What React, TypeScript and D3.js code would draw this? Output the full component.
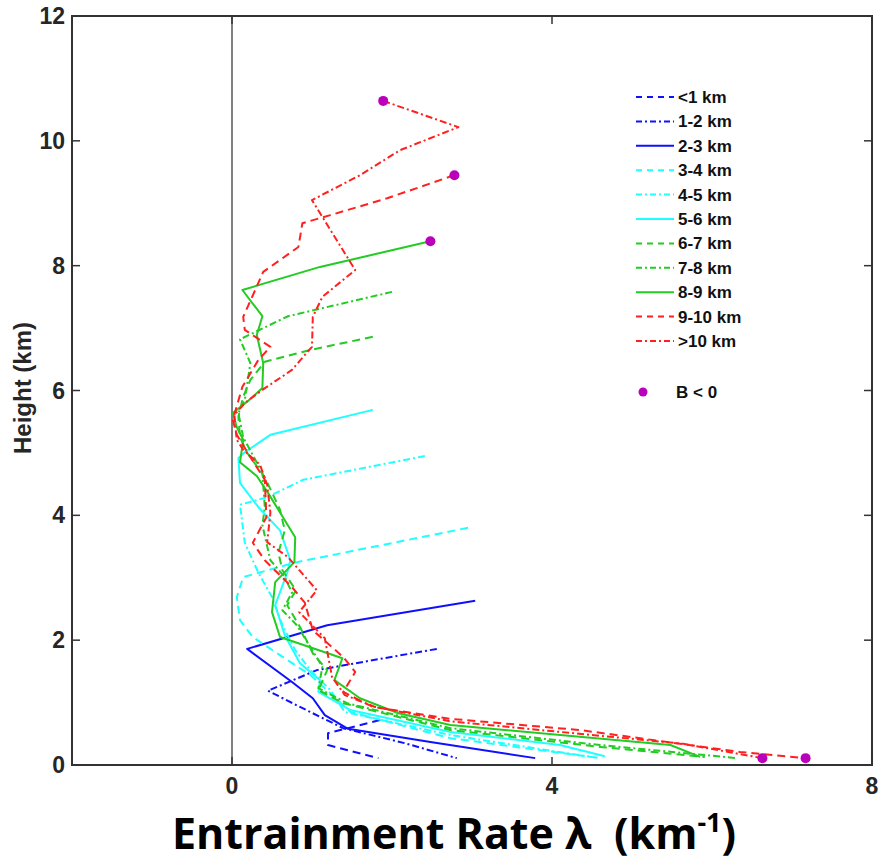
import React from "react";
import * as d3 from "d3";

// ---------- data ----------
const xTicks = [0, 4, 8];
const yTicks = [0, 2, 4, 6, 8, 10, 12];

const legendLabels = ["<1 km", "1-2 km", "2-3 km", "3-4 km", "4-5 km", "5-6 km", "6-7 km", "7-8 km", "8-9 km", "9-10 km", ">10 km"];

// entrainment rate (km^-1) and height (km) per cloud-top class
const lamLt1 = [1.85, 1.2, 1.2, 1.83];
const hLt1 = [0.72, 0.51, 0.32, 0.11];

const lam1to2 = [2.56, 1.06, 0.45, 0.85, 1.39, 2.16, 2.81];
const h1to2 = [1.86, 1.52, 1.19, 0.93, 0.59, 0.35, 0.11];

const lam2to3 = [3.04, 1.19, 0.19, 0.75, 1.01, 1.16, 1.45, 2.48, 3.79];
const h2to3 = [2.63, 2.24, 1.86, 1.33, 1.07, 0.8, 0.58, 0.37, 0.11];

const lam3to4 = [2.95, 0.81, 0.14, 0.06, 0.1, 0.26, 0.6, 0.98, 1.23, 1.48, 2.73, 4.6];
const h3to4 = [3.8, 3.25, 3.01, 2.69, 2.32, 2.05, 1.76, 1.44, 1.15, 0.85, 0.43, 0.11];

const lam4to5 = [2.41, 0.89, 0.44, 0.1, 0.16, 0.33, 0.5, 0.63, 0.79, 0.98, 1.23, 1.41, 2.73, 4.48];
const h4to5 = [4.95, 4.57, 4.29, 4.17, 3.56, 3.08, 2.69, 2.24, 1.84, 1.52, 1.2, 0.85, 0.48, 0.13];

const lam5to6 = [1.76, 0.48, 0.16, 0.08, 0.1, 0.33, 0.6, 0.73, 0.69, 0.54, 0.66, 0.85, 1.1, 1.08, 1.48, 2.73, 4.1, 4.66];
const h5to6 = [5.69, 5.29, 5.01, 4.92, 4.52, 4.13, 3.76, 3.28, 3.08, 2.56, 2.08, 1.63, 1.36, 1.17, 0.88, 0.53, 0.32, 0.14];

const lam6to7 = [1.76, 0.98, 0.41, 0.23, 0.14, 0.08, 0.1, 0.19, 0.41, 0.6, 0.66, 0.58, 0.63, 0.8, 0.69, 0.85, 1.01, 1.19, 1.08, 1.39, 2.73, 4.6, 5.91];
const h6to7 = [6.86, 6.65, 6.46, 6.17, 5.9, 5.58, 5.25, 5.0, 4.61, 4.09, 3.76, 3.4, 3.12, 2.8, 2.56, 2.21, 1.79, 1.52, 1.2, 0.99, 0.56, 0.29, 0.13];

const lam7to8 = [2.0, 0.7, 0.1, 0.23, 0.16, 0.08, 0.14, 0.38, 0.41, 0.38, 0.48, 0.66, 0.75, 0.63, 0.81, 0.98, 1.13, 1.08, 1.44, 2.73, 4.6, 6.31];
const h7to8 = [7.58, 7.19, 6.82, 6.44, 5.85, 5.64, 5.25, 4.68, 4.13, 3.84, 3.28, 3.01, 2.76, 2.48, 2.24, 1.89, 1.57, 1.23, 0.99, 0.59, 0.32, 0.11];

const lam8to9 = [2.48, 1.1, 0.13, 0.38, 0.31, 0.39, 0.38, 0.19, 0.01, 0.06, 0.14, 0.1, 0.31, 0.45, 0.79, 0.78, 0.54, 0.5, 0.6, 1.38, 1.28, 1.6, 2.08, 2.73, 5.48, 5.85];
const h8to9 = [8.39, 7.98, 7.61, 7.19, 6.89, 6.44, 6.04, 5.82, 5.64, 5.41, 5.21, 4.85, 4.63, 4.36, 3.65, 3.25, 2.93, 2.45, 2.05, 1.71, 1.36, 1.07, 0.83, 0.64, 0.32, 0.13];

const lam9to10 = [2.78, 1.94, 1.23, 0.88, 0.83, 0.39, 0.29, 0.14, 0.16, 0.48, 0.33, 0.13, 0.01, 0.06, 0.25, 0.41, 0.43, 0.26, 0.41, 0.75, 0.91, 1.01, 1.39, 1.54, 1.39, 1.76, 2.73, 4.35, 6.35, 7.17];
const h9to10 = [9.45, 9.08, 8.81, 8.68, 8.3, 7.9, 7.61, 7.18, 6.97, 6.7, 6.49, 6.06, 5.53, 5.29, 4.89, 4.57, 3.97, 3.56, 3.28, 2.85, 2.6, 2.16, 1.73, 1.49, 1.17, 0.93, 0.74, 0.56, 0.21, 0.11];

const lamGt10 = [1.89, 2.83, 2.1, 1.6, 1.0, 1.54, 1.13, 1.01, 1.0, 0.91, 0.75, 0.38, 0.16, 0.03, 0.04, 0.06, 0.14, 0.35, 0.44, 0.48, 0.44, 0.7, 1.06, 0.84, 1.16, 1.25, 1.41, 1.79, 2.73, 4.1, 5.64, 6.63];
const hGt10 = [10.64, 10.22, 9.85, 9.45, 9.05, 7.93, 7.5, 7.18, 6.7, 6.57, 6.33, 6.01, 5.8, 5.61, 5.45, 5.21, 5.05, 4.81, 4.49, 4.04, 3.57, 3.33, 2.8, 2.45, 2.03, 1.41, 1.12, 0.93, 0.7, 0.53, 0.34, 0.11];

// points where buoyancy B < 0
const bLam = [1.89, 2.78, 2.48, 6.63, 7.17];
const bH = [10.64, 9.45, 8.39, 0.11, 0.11];

// ---------- style ----------
const W = 879;
const H = 865;
const BLUE = "#1010ff";
const CYAN = "#20ffff";
const GREEN = "#22cc22";
const RED = "#ff2020";
const MAG = "#bb00bb";
const DASH = "8 5";
const DASHDOT = "7 3 2 3";
const SOLID = "none";

const seriesData = [
  { lam: lamLt1, h: hLt1, color: BLUE, dash: DASH },
  { lam: lam1to2, h: h1to2, color: BLUE, dash: DASHDOT },
  { lam: lam2to3, h: h2to3, color: BLUE, dash: SOLID },
  { lam: lam3to4, h: h3to4, color: CYAN, dash: DASH },
  { lam: lam4to5, h: h4to5, color: CYAN, dash: DASHDOT },
  { lam: lam5to6, h: h5to6, color: CYAN, dash: SOLID },
  { lam: lam6to7, h: h6to7, color: GREEN, dash: DASH },
  { lam: lam7to8, h: h7to8, color: GREEN, dash: DASHDOT },
  { lam: lam8to9, h: h8to9, color: GREEN, dash: SOLID },
  { lam: lam9to10, h: h9to10, color: RED, dash: DASH },
  { lam: lamGt10, h: hGt10, color: RED, dash: DASHDOT },
];

export default function App() {
  const x = d3.scaleLinear().domain([-2, 8]).range([72, 872]);
  const y = d3.scaleLinear().domain([0, 12]).range([765, 16]);
  const line = d3
    .line<[number, number]>()
    .x((d) => x(d[0]))
    .y((d) => y(d[1]));

  const tickFont = "'Liberation Sans', Arial, sans-serif";
  const axisColor = "#333";
  const legX = 636;
  const legY0 = 97;
  const legStep = 24.4;

  return (
    <svg
      width={W}
      height={H}
      style={{ position: "absolute", left: 0, top: 0, background: "#fff" }}
    >
      {/* zero line */}
      <line x1={x(0)} x2={x(0)} y1={y(0)} y2={y(12)} stroke="#555" strokeWidth={1.5} />

      {/* series */}
      {seriesData.map((s, i) => (
        <path
          key={i}
          d={line(s.lam.map((v, j) => [v, s.h[j]] as [number, number])) || ""}
          fill="none"
          stroke={s.color}
          strokeWidth={2}
          strokeDasharray={s.dash === SOLID ? undefined : s.dash}
          strokeLinejoin="round"
        />
      ))}

      {/* B<0 points */}
      {bLam.map((v, i) => (
        <circle key={i} cx={x(v)} cy={y(bH[i])} r={5} fill={MAG} />
      ))}

      {/* frame */}
      <rect x={72} y={16} width={800} height={749} fill="none" stroke={axisColor} strokeWidth={2} />

      {/* y ticks */}
      {yTicks.map((t) => (
        <g key={"y" + t}>
          <line x1={72} x2={80} y1={y(t)} y2={y(t)} stroke={axisColor} strokeWidth={1.5} />
          <line x1={864} x2={872} y1={y(t)} y2={y(t)} stroke={axisColor} strokeWidth={1.5} />
          <text
            x={65}
            y={y(t)}
            dy="0.35em"
            textAnchor="end"
            fontFamily={tickFont}
            fontWeight="bold"
            fontSize={23}
            fill="#262626"
          >
            {t}
          </text>
        </g>
      ))}

      {/* x ticks */}
      {xTicks.map((t) => (
        <g key={"x" + t}>
          <line x1={x(t)} x2={x(t)} y1={765} y2={757} stroke={axisColor} strokeWidth={1.5} />
          <line x1={x(t)} x2={x(t)} y1={16} y2={24} stroke={axisColor} strokeWidth={1.5} />
          <text
            x={x(t)}
            y={786}
            dy="0.35em"
            textAnchor="middle"
            fontFamily={tickFont}
            fontWeight="bold"
            fontSize={23}
            fill="#262626"
          >
            {t}
          </text>
        </g>
      ))}

      {/* axis titles */}
      <text
        transform={`translate(23,388) rotate(-90)`}
        textAnchor="middle"
        dy="0.35em"
        fontFamily={tickFont}
        fontWeight="bold"
        fontSize={24}
        fill="#262626"
      >
        Height (km)
      </text>
      <text
        x={454}
        y={849}
        textAnchor="middle"
        fontFamily="'Open Sans', 'Noto Sans', sans-serif"
        fontWeight="bold"
        fontSize={43}
        fill="#000"
      >
        Entrainment Rate λ{"\u00A0\u00A0"}(km
        <tspan dy={-17} fontSize={27}>-1</tspan>
        <tspan dy={17}>)</tspan>
      </text>

      {/* legend */}
      {seriesData.map((s, i) => (
        <g key={"leg" + i}>
          <line
            x1={legX}
            x2={legX + 38}
            y1={legY0 + i * legStep}
            y2={legY0 + i * legStep}
            stroke={s.color}
            strokeWidth={2}
            strokeDasharray={s.dash === SOLID ? undefined : s.dash === DASH ? "6 5" : "6 3 2 3"}
          />
          <text
            x={legX + 42}
            y={legY0 + i * legStep}
            dy="0.35em"
            fontFamily={tickFont}
            fontWeight="bold"
            fontSize={17}
            fill="#111"
          >
            {legendLabels[i]}
          </text>
        </g>
      ))}
      <circle cx={643} cy={392} r={4.5} fill={MAG} />
      <text
        x={676}
        y={392}
        dy="0.35em"
        fontFamily={tickFont}
        fontWeight="bold"
        fontSize={17}
        fill="#111"
      >
        B &lt; 0
      </text>
    </svg>
  );
}
